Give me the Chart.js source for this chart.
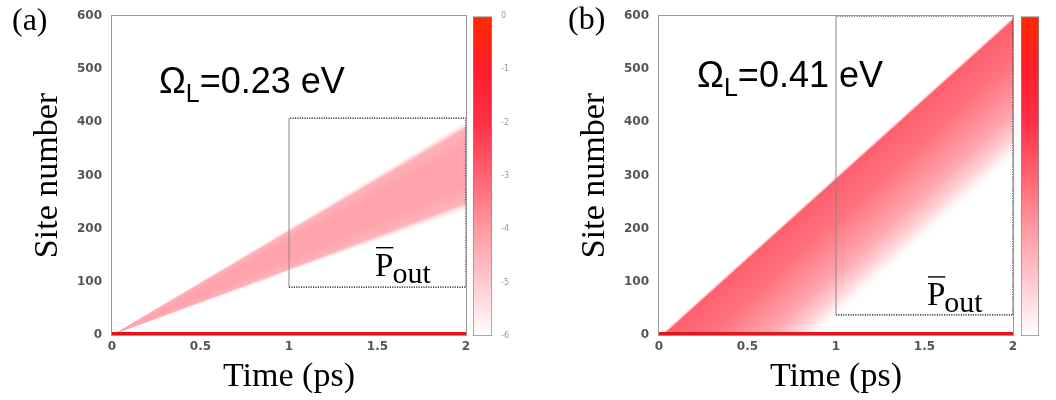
<!DOCTYPE html>
<html><head><meta charset="utf-8">
<script src="https://cdn.jsdelivr.net/npm/chart.js@4.4.1/dist/chart.umd.min.js"></script>
<style>
html,body{margin:0;padding:0;background:#fff;overflow:hidden;width:1056px;height:400px;}
.box{position:absolute;top:0;height:400px;}
canvas{display:block;}
</style></head><body>
<div class="box" style="left:0;width:476px"><canvas id="mainA" width="476" height="400" style="width:476px;height:400px"></canvas></div>
<div class="box" style="left:460px;width:70px"><canvas id="barA" width="70" height="400" style="width:70px;height:400px"></canvas></div>
<div class="box" style="left:547px;width:476px"><canvas id="mainB" width="476" height="400" style="width:476px;height:400px"></canvas></div>
<div class="box" style="left:1008px;width:70px"><canvas id="barB" width="70" height="400" style="width:70px;height:400px"></canvas></div>
<script>
// ---------- data ----------
const timeTicks = [0, 0.5, 1, 1.5, 2];
const siteTicks = [0, 100, 200, 300, 400, 500, 600];
const levelTicks = [0, -1, -2, -3, -4, -5, -6];           // colour bar (log10 of occupation)
const levelColors = ['#ff2a00', '#ff1e2c', '#ff3048', '#ff6470', '#ff9aa3', '#ffcacf', '#ffffff'];

// panel (a)  Omega_L = 0.23 eV
const timeA  = [0, 0.5, 1, 1.5, 2];
const upperA = [0, 104, 208, 306, 406];     // outer upper edge of the wave packet (site)
const lowerA = [0, 48, 122, 178, 232];      // outer lower edge (site)
const profileA = [0, 0.1, 0.3, 0.7, 0.9, 1];            // position across the band (lower→upper)
const levelsA  = [-6, -4.5, -4.2, -4.2, -4.5, -6];      // colour-bar level across the band
const boxTimeA = [1, 2];
const boxSiteA = [90, 408];

// panel (b)  Omega_L = 0.41 eV
const timeB  = [0, 0.5, 1, 1.5, 2];
const upperB = [0, 150, 300, 450, 600];
const lowerB = [0, 0, 0, 150, 300];
const depthB  = [0, 8, 90, 180, 236, 275];               // sites below the upper edge
const levelsB = [-6, -2.9, -3.3, -4.2, -5.3, -6];
const boxTimeB = [1, 2];
const boxSiteB = [38, 600];

// injection site (site 0) stays fully occupied
const baseTime = [0, 2];
const baseSite = [2, 2];

const omegaTextA = '=0.23 eV';
const omegaTextB = '=0.41 eV';

// ---------- helpers ----------
function hexRgb(h){return [parseInt(h.slice(1,3),16),parseInt(h.slice(3,5),16),parseInt(h.slice(5,7),16)];}
function levelColor(lv){
  const last = levelTicks.length-1;
  if (lv <= levelTicks[last]) return 'rgba(255,255,255,0)';
  if (lv >= levelTicks[0]) return levelColors[0];
  for (let i=0;i<last;i++){
    if (lv <= levelTicks[i] && lv >= levelTicks[i+1]){
      const f = (levelTicks[i]-lv)/(levelTicks[i]-levelTicks[i+1]);
      const a = hexRgb(levelColors[i]), b = hexRgb(levelColors[i+1]);
      const c = a.map((v,k)=>Math.round(v+(b[k]-v)*f));
      return `rgb(${c[0]},${c[1]},${c[2]})`;
    }
  }
}
function pts(ts, ss){return ts.map((t,i)=>({x:t,y:ss[i]}));}
function noPad(s){s.paddingTop = 0; s.paddingBottom = 0; s.paddingLeft = 0; s.paddingRight = 0;}

function fillA(ctx){
  const ch = ctx.chart; if (!ch.chartArea) return 'rgba(0,0,0,0)';
  const xs = ch.scales.x, ys = ch.scales.y;
  const ox = xs.getPixelForValue(0), oy = ys.getPixelForValue(0);
  const n = timeA.length-1, tE = timeA[n], lo = lowerA[n], hi = upperA[n];
  const g = ch.ctx.createConicGradient(-Math.PI/2, ox, oy);
  profileA.forEach((f,i)=>{
    const s = lo + f*(hi-lo);
    const ang = Math.atan2(ys.getPixelForValue(s)-oy, xs.getPixelForValue(tE)-ox);
    g.addColorStop((ang+Math.PI/2)/(2*Math.PI), levelColor(levelsA[i]));
  });
  return g;
}
function fillB(ctx){
  const ch = ctx.chart; if (!ch.chartArea) return 'rgba(0,0,0,0)';
  const xs = ch.scales.x, ys = ch.scales.y;
  const n = timeB.length-1;
  const x0 = xs.getPixelForValue(timeB[0]), y0 = ys.getPixelForValue(upperB[0]);
  const x1 = xs.getPixelForValue(timeB[n]), y1 = ys.getPixelForValue(upperB[n]);
  let dx = x1-x0, dy = y1-y0; const L = Math.hypot(dx,dy); dx/=L; dy/=L;
  const nx = -dy, ny = dx;
  const m = 2;
  const px = xs.getPixelForValue(timeB[m]), py = ys.getPixelForValue(upperB[m]);
  const dmax = depthB[depthB.length-1];
  const vpx = ys.getPixelForValue(upperB[m]-dmax) - py;
  const d = vpx*dx;
  const g = ch.ctx.createLinearGradient(px, py, px+nx*d, py+ny*d);
  depthB.forEach((dp,i)=>g.addColorStop(dp/dmax, levelColor(levelsB[i])));
  return g;
}

const framePlugin = {
  id:'frame',
  beforeDatasetsDraw(chart){
    const {ctx, chartArea:a} = chart;
    ctx.save(); ctx.strokeStyle='#999'; ctx.lineWidth=1;
    ctx.strokeRect(a.left-0.5, a.top-0.5, a.right-a.left+1, a.bottom-a.top+1);
    ctx.restore();
  }
};
const annotPlugin = {
  id:'annot',
  afterDatasetsDraw(chart, args, o){
    const {ctx, scales:{x, y}} = chart;
    ctx.save();
    ctx.fillStyle='#000'; ctx.textAlign='left'; ctx.textBaseline='alphabetic';
    ctx.font = '32px "Liberation Serif"';
    ctx.fillText(o.panel, o.panelPos[0], o.panelPos[1]);
    let px = x.getPixelForValue(o.omegaAt[0]); const py = y.getPixelForValue(o.omegaAt[1]);
    ctx.font = '36px "Liberation Sans"'; ctx.fillText('Ω', px, py); px += ctx.measureText('Ω').width;
    ctx.font = '25px "Liberation Sans"'; ctx.fillText('L', px, py+9); px += ctx.measureText('L').width;
    ctx.font = '36px "Liberation Sans"'; ctx.fillText(o.omegaText, px, py);
    const qx = x.getPixelForValue(o.poutAt[0]), qy = y.getPixelForValue(o.poutAt[1]);
    ctx.font = '33px "Liberation Serif"'; ctx.fillText('P', qx, qy);
    const pw = ctx.measureText('P').width;
    ctx.fillRect(qx+1, qy-29, pw-1, 1.4);
    ctx.font = '30px "Liberation Serif"'; ctx.fillText('out', qx+pw-1, qy+7);
    ctx.restore();
  }
};

const tickFont = {family:'"DejaVu Sans"', size:12, weight:'bold'};
function mainChart(id, o){
  return new Chart(document.getElementById(id), {
    type:'scatter',
    data:{datasets:[
      {data:pts(o.time,o.upper), showLine:true, pointRadius:0, borderWidth:1, borderColor:'rgba(0,0,0,0)', fill:'+1', backgroundColor:o.fill, order:10},
      {data:pts(o.time,o.lower), showLine:true, pointRadius:0, borderWidth:1, borderColor:'rgba(0,0,0,0)', fill:false, order:9},
      {data:pts(baseTime,baseSite), showLine:true, pointRadius:0, borderWidth:4, borderColor:'#e0161c', order:3},
      {data:pts([o.boxT[0],o.boxT[1],o.boxT[1],o.boxT[0]],[o.boxS[0],o.boxS[0],o.boxS[1],o.boxS[1]]), showLine:true, pointRadius:0, borderWidth:1.2, borderColor:'#111', borderDash:[1.2,1.2], order:2},
      {data:pts([o.boxT[0],o.boxT[0]],[o.boxS[0],o.boxS[1]]), showLine:true, pointRadius:0, borderWidth:1, borderColor:'#888', order:1}
    ]},
    options:{
      responsive:false, animation:false, devicePixelRatio:1,
      layout:{padding:{left:0, top:16, right:10, bottom:0}},
      plugins:{legend:{display:false}, tooltip:{enabled:false}, annot:o.annot},
      scales:{
        x:{type:'linear', min:0, max:2,
          afterBuildTicks:s=>{s.ticks = timeTicks.map(v=>({value:v}));},
          ticks:{padding:5, font:tickFont, color:'#555', callback:v=>String(v), maxRotation:0},
          grid:{display:false, drawTicks:false}, border:{display:false},
          title:{display:true, text:'Time (ps)', color:'#000', font:{family:'"Liberation Serif"', size:34, lineHeight:1.2}, padding:{top:0,bottom:3}},
          afterFit:s=>{s.height = 65; noPad(s);}},
        y:{type:'linear', min:0, max:600,
          afterBuildTicks:s=>{s.ticks = siteTicks.map(v=>({value:v}));},
          ticks:{padding:10, font:tickFont, color:'#555', callback:v=>String(v)},
          grid:{display:false, drawTicks:false}, border:{display:false},
          title:{display:true, text:'Site number', color:'#000', font:{family:'"Liberation Serif"', size:34, lineHeight:1.2}, padding:{top:28,bottom:0}},
          afterFit:s=>{s.width = 112; noPad(s);}}
      }
    },
    plugins:[framePlugin, annotPlugin]
  });
}
function cbFill(c){
  const ch = c.chart; if (!ch.chartArea) return 'rgba(0,0,0,0)';
  const y = ch.scales.y, n = levelTicks.length-1;
  const g = ch.ctx.createLinearGradient(0, y.getPixelForValue(levelTicks[0]), 0, y.getPixelForValue(levelTicks[n]));
  levelTicks.forEach((lv,i)=>g.addColorStop((levelTicks[0]-lv)/(levelTicks[0]-levelTicks[n]), levelColors[i]));
  return g;
}
function colorbar(id, w, pad){
  const n = levelTicks.length-1;
  return new Chart(document.getElementById(id), {
    type:'bar',
    data:{labels:[''], datasets:[{data:[[levelTicks[n], levelTicks[0]]], backgroundColor:cbFill, borderColor:'#888', borderWidth:1, borderSkipped:false, barPercentage:1, categoryPercentage:1}]},
    options:{
      responsive:false, animation:false, devicePixelRatio:1,
      layout:{padding:{left:13, top:16, bottom:64, right:0}},
      plugins:{legend:{display:false}, tooltip:{enabled:false}},
      scales:{
        x:{display:false},
        y:{position:'right', min:levelTicks[n], max:levelTicks[0], z:1,
          afterBuildTicks:s=>{s.ticks = levelTicks.map(v=>({value:v}));},
          ticks:{padding:pad, font:{family:'"DejaVu Sans"', size:8}, color:'#999', callback:v=>String(v)},
          grid:{drawTicks:false, lineWidth:1, color:c=>(c.tick && (c.tick.value===levelTicks[0]||c.tick.value===levelTicks[n]))?'rgba(0,0,0,0)':'rgba(120,0,10,0.55)'},
          border:{display:false, dash:[3, w-6, 3]},
          afterFit:s=>{s.width = 70-13-w; noPad(s);}}
      }
    }
  });
}

mainChart('mainA', {time:timeA, upper:upperA, lower:lowerA, fill:fillA, boxT:boxTimeA, boxS:boxSiteA,
  annot:{panel:'(a)', panelPos:[12,30], omegaAt:[0.265,455], omegaText:omegaTextA, poutAt:[1.486,111]}});
mainChart('mainB', {time:timeB, upper:upperB, lower:lowerB, fill:fillB, boxT:boxTimeB, boxS:boxSiteB,
  annot:{panel:'(b)', panelPos:[21,29], omegaAt:[0.215,466], omegaText:omegaTextB, poutAt:[1.514,56]}});
colorbar('barA', 19, 9);
colorbar('barB', 18, 18);
</script>
</body></html>
